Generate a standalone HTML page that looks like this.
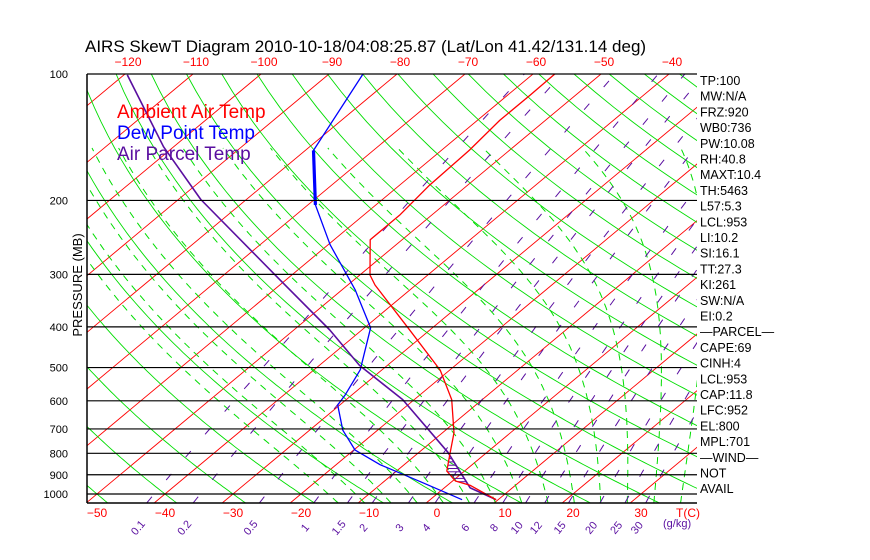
<!DOCTYPE html>
<html><head><meta charset="utf-8"><style>
body{margin:0;background:#fff;}
svg{display:block;font-family:"Liberation Sans",sans-serif;}
</style></head><body>
<svg id="chart" width="870" height="560" viewBox="0 0 870 560" xmlns="http://www.w3.org/2000/svg">
<rect width="870" height="560" fill="#fff"/>
<text x="85" y="52" font-size="17" fill="#000">AIRS SkewT Diagram 2010-10-18/04:08:25.87 (Lat/Lon 41.42/131.14 deg)</text>
<defs><clipPath id="plotclip"><rect x="87" y="74" width="610" height="429"/></clipPath></defs>
<g id="grid" clip-path="url(#plotclip)"></g>
<g id="series" clip-path="url(#plotclip)"></g>
<g id="axes"></g>
<g font-size="19">
<text x="117" y="118" fill="#ff0000">Ambient Air Temp</text>
<text x="117" y="139" fill="#0000ff">Dew Point Temp</text>
<text x="117" y="160" fill="#5a0fa0">Air Parcel Temp</text>
</g>
<text transform="translate(82,285) rotate(-90)" text-anchor="middle" font-size="13" fill="#000">PRESSURE (MB)</text>
</svg>
<script>
const tempP=[1032,954,931,882,808,715,596,507,402,318,301,248,217,184,152,129,112,100];
const tempT=[9.7,3.4,0.4,-2.6,-5.0,-8.3,-14.5,-21.4,-33.6,-46,-48.5,-54.7,-54.7,-55.6,-55.9,-56.7,-56.7,-56.8];
const dewP=[1032,935,852,786,705,614,580,506,402,327,255,205,152,100];
const dewT=[4.7,-4.6,-13.5,-19.8,-25.1,-30.3,-31,-33.2,-39.1,-48,-59.7,-68.9,-78.8,-85];
const parcelP=[1032,967,795,596,494,407,309,199,149,100.5];
const parcelT=[9.7,3.8,-5.8,-21.7,-34.1,-44.7,-60.9,-86.7,-101.5,-119.5];
const pressureTicks=[100,200,300,400,500,600,700,800,900,1000];
const bottomTempTicks=[-50,-40,-30,-20,-10,0,10,20,30];
const topTempTicks=[-120,-110,-100,-90,-80,-70,-60,-50,-40];
const mixingRatios=[0.1,0.2,0.5,1,1.5,2,3,4,6,8,10,12,15,20,25,30];
const rightLabels=["TP:100","MW:N/A","FRZ:920","WB0:736","PW:10.08","RH:40.8","MAXT:10.4","TH:5463","L57:5.3","LCL:953","LI:10.2","SI:16.1","TT:27.3","KI:261","SW:N/A","EI:0.2","\u2014PARCEL\u2014","CAPE:69","CINH:4","LCL:953","CAP:11.8","LFC:952","EL:800","MPL:701","\u2014WIND\u2014","NOT","AVAIL"];

const NS="http://www.w3.org/2000/svg";
const X0=437,DX=6.8,SK=1.2,Y0=74,KY=420;
function yP(p){return Y0+KY*Math.log10(p/100);}
function xT(t,p){return X0+DX*t+SK*(494-yP(p));}
function mk(tag,attrs,parent){const e=document.createElementNS(NS,tag);for(const k in attrs)e.setAttribute(k,attrs[k]);parent.appendChild(e);return e;}
const grid=document.getElementById('grid'),series=document.getElementById('series'),axes=document.getElementById('axes');
function ptsStr(arr){return arr.map(a=>a[0].toFixed(1)+','+a[1].toFixed(1)).join(' ');}

// isotherms
for(let t=-170;t<=50;t+=10){
 const l=mk('line',{x1:xT(t,1050),y1:yP(1050),x2:xT(t,100),y2:yP(100),stroke:'#ff0000','stroke-width':0.9},grid);
 
 
}
// dry adiabats
for(let th=-60;th<=200;th+=10){
 const pts=[];
 for(let p=1050;p>=100;p-=10){const T=(th+273.15)*Math.pow(p/1000,0.2857)-273.15;pts.push([xT(T,p),yP(p)]);}
 const e=mk('polyline',{points:ptsStr(pts),fill:'none',stroke:'#00dd00','stroke-width':0.9},grid);
 
 
}
// moist adiabats
function es(tc){return 6.112*Math.exp(17.67*tc/(tc+243.5));}
for(let t0=-16;t0<=44;t0+=4){
 const pts=[];let T=t0+273.15;
 // go down to 1050
 let Tb=T;{let p=1000;while(p<1050){const tc=Tb-273.15,e=es(tc),rs=0.622*e/(p-e);const d=(287*Tb+2.5e6*rs)/(p*(1004+2.5e6*2.5e6*rs*0.622/(287*Tb*Tb)));Tb+=d*5;p+=5;}}
 let p=1050;T=Tb;
 while(p>=150){pts.push([xT(T-273.15,p),yP(p)]);const tc=T-273.15,e=es(tc),rs=0.622*e/(p-e);const d=(287*T+2.5e6*rs)/(p*(1004+2.5e6*2.5e6*rs*0.622/(287*T*T)));T-=d*5;p-=5;}
 const e=mk('polyline',{points:ptsStr(pts),fill:'none',stroke:'#00dd00','stroke-width':1,'stroke-dasharray':'7 6'},grid);
 
 
}
// mixing ratio lines
function tdW(w,p){const e=w*p/(622+w);const l=Math.log(e/6.112);return 243.5*l/(17.67-l);}
mixingRatios.forEach(w=>{
 const pts=[];for(let p=1050;p>=100;p-=10)pts.push([xT(tdW(w,p),p),yP(p)]);
 const e=mk('polyline',{points:ptsStr(pts),fill:'none',stroke:'#5a0fa0','stroke-width':1,'stroke-dasharray':'8 22'},grid);
 
 
});
// pressure lines
pressureTicks.forEach(p=>{
 const l=mk('line',{x1:87,y1:yP(p),x2:697,y2:yP(p),stroke:'#000','stroke-width':1.2},axes);
 
 
 const t=mk('text',{x:68,y:yP(p)+4,'text-anchor':'end','font-size':11,fill:'#000'},axes);
 t.textContent=p;
 
 
});
mk('line',{x1:87,y1:74,x2:87,y2:503,stroke:'#000','stroke-width':1.5},axes);
mk('line',{x1:87,y1:503,x2:697,y2:503,stroke:'#000','stroke-width':1.5},axes);
bottomTempTicks.forEach(t=>{
 const e=mk('text',{x:xT(t,1000),y:517,'text-anchor':'middle','font-size':12,fill:'#ff0000'},axes);
 e.textContent=t<0?'\u2212'+(-t):t;
 
 
});
{const e=mk('text',{x:688,y:517,'text-anchor':'middle','font-size':12,fill:'#ff0000'},axes);e.textContent='T(C)';

}
topTempTicks.forEach(t=>{
 const e=mk('text',{x:xT(t,100)+3,y:66,'text-anchor':'middle','font-size':12,fill:'#ff0000'},axes);
 e.textContent='\u2212'+(-t);
 
 
});
mixingRatios.forEach(w=>{
 const x=xT(tdW(w,1050),1050)-6;
 const e=mk('text',{x:0,y:0,transform:'translate('+x.toFixed(1)+',530) rotate(-50)','text-anchor':'middle','font-size':11,fill:'#5a0fa0'},axes);
 e.textContent=w;
 
 
});
{const e=mk('text',{x:663,y:527,'font-size':11,fill:'#5a0fa0'},axes);e.textContent='(g/kg)';

}
rightLabels.forEach((s,i)=>{
 const e=mk('text',{x:700,y:85+i*15.7,'font-size':12.5,fill:'#000'},axes);
 e.textContent=s;
 
 
});
// hatch between parcel and temp
function interp(P,T,p){for(let i=0;i<P.length-1;i++){if(p<=P[i]&&p>=P[i+1]){const f=Math.log(p/P[i])/Math.log(P[i+1]/P[i]);return T[i]+f*(T[i+1]-T[i]);}}return null;}
for(let y=452;y<=490;y+=3.3){
 const p=100*Math.pow(10,(y-Y0)/KY);
 const a=interp(tempP,tempT,p),b=interp(parcelP,parcelT,p);
 if(a!==null&&b!==null&&b>a){const l=mk('line',{x1:xT(a,p),y1:y,x2:xT(b,p),y2:y,stroke:'#5a0fa0','stroke-width':1},series);
 
 }
}
function line(P,T,color,w,name){
 const pts=P.map((p,i)=>[xT(T[i],p),yP(p)]);
 const e=mk('polyline',{points:ptsStr(pts),fill:'none',stroke:color,'stroke-width':w,'stroke-linejoin':'round'},series);
 
 
}
line(dewP,dewT,'#0000ff',1.3,'dew-point-line');
{const i=dewP.indexOf(205),j=dewP.indexOf(152);line(dewP.slice(i,j+1),dewT.slice(i,j+1),'#0000ff',3.2,'dew-point-thick-segment');}
line(parcelP,parcelT,'#5a0fa0',1.6,'parcel-line');
line(tempP,tempT,'#ff0000',1.3,'temperature-line');
</script>
</body></html>
